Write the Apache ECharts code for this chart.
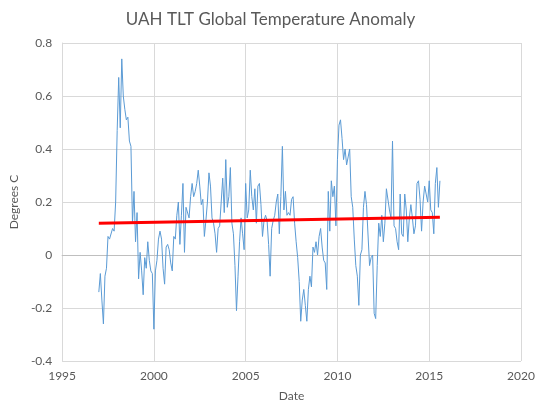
<!DOCTYPE html>
<html>
<head>
<meta charset="utf-8">
<title>UAH TLT Global Temperature Anomaly</title>
<script src="https://cdn.jsdelivr.net/npm/echarts@6/dist/echarts.min.js"></script>
<style>
    html, body { margin: 0; padding: 0; background: #fff; }
    #chart { width: 541px; height: 418px; }
</style>
</head>
<body>
<div id="chart"></div>
<script>
// monthly anomaly, Jan 1997 .. Aug 2015
var startYear = 1997;
var anomaly = [
    -0.14, -0.07, -0.17, -0.26, -0.08, -0.05, 0.07, 0.06, 0.06, 0.10, 0.09, 0.20,   // 1997
    0.47, 0.67, 0.48, 0.74, 0.60, 0.55, 0.51, 0.52, 0.43, 0.41, 0.12, 0.24,         // 1998
    0.05, 0.16, -0.09, 0.01, -0.06, -0.15, -0.01, -0.05, 0.05, -0.02, -0.06, -0.07, // 1999
    -0.28, -0.06, -0.02, 0.06, 0.09, 0.06, -0.05, -0.11, 0.03, 0.04, 0.02, -0.03,   // 2000
    -0.06, 0.07, 0.06, 0.15, 0.20, 0.04, 0.15, 0.27, 0.01, 0.18, 0.18, 0.14,        // 2001
    0.22, 0.27, 0.22, 0.24, 0.27, 0.32, 0.26, 0.19, 0.21, 0.07, 0.13, 0.20,         // 2002
    0.31, 0.26, 0.14, 0.12, 0.08, 0.01, 0.10, 0.11, 0.20, 0.29, 0.16, 0.36,         // 2003
    0.18, 0.22, 0.33, 0.12, 0.08, -0.04, -0.21, -0.08, 0.05, 0.14, 0.08, 0.02,      // 2004
    0.27, 0.14, 0.17, 0.32, 0.22, 0.17, 0.25, 0.12, 0.26, 0.27, 0.19, 0.07,         // 2005
    0.13, 0.15, 0.13, 0.04, -0.08, 0.10, 0.13, 0.15, 0.20, 0.23, 0.08, 0.22,        // 2006
    0.41, 0.17, 0.24, 0.15, 0.16, 0.15, 0.21, 0.22, 0.12, 0.05, -0.01, -0.10,       // 2007
    -0.25, -0.17, -0.13, -0.19, -0.25, -0.13, -0.08, -0.12, 0.03, 0.01, 0.05, 0.00, // 2008
    0.07, 0.10, 0.03, -0.02, -0.03, -0.13, 0.24, 0.09, 0.28, 0.22, 0.26, 0.11,      // 2009
    0.36, 0.49, 0.51, 0.44, 0.36, 0.40, 0.34, 0.37, 0.40, 0.22, 0.18, 0.06,         // 2010
    -0.04, -0.08, -0.19, 0.00, 0.02, 0.18, 0.24, 0.19, 0.19, -0.04, -0.01, 0.00,    // 2011
    -0.22, -0.24, -0.04, 0.12, 0.07, 0.15, 0.05, 0.12, 0.25, 0.25, 0.17, 0.14,      // 2012
    0.43, 0.11, 0.10, 0.05, 0.02, 0.23, 0.08, 0.07, 0.23, 0.17, 0.05, 0.14,         // 2013
    0.19, 0.14, 0.08, 0.11, 0.27, 0.28, 0.21, 0.09, 0.20, 0.26, 0.23, 0.20,         // 2014
    0.28, 0.17, 0.16, 0.08, 0.27, 0.33, 0.18, 0.28                                  // 2015
];
// linear trend line, ends [date, value]
var trendStart = [1997.0, 0.120];
var trendEnd = [2015.58, 0.142];

var xMin = 1995, xMax = 2020, xStep = 5;
var yMin = -0.4, yMax = 0.8, yStep = 0.2;

var series1 = [];
for (var i = 0; i < anomaly.length; i++) {
    series1.push([startYear + i / 12, anomaly[i]]);
}

var chart = echarts.init(document.getElementById('chart'));
var font = 'Lato, "Noto Sans", sans-serif';

var option = {
    backgroundColor: '#ffffff',
    animation: false,
    title: {
        text: 'UAH TLT Global Temperature Anomaly',
        left: 'center',
        top: 6,
        textStyle: {
            color: '#595959',
            fontSize: 17,
            fontWeight: 'normal',
            fontFamily: font
        }
    },
    grid: {
        left: 60,
        right: 20,
        top: 43,
        bottom: 57
    },
    xAxis: {
        type: 'value',
        min: xMin,
        max: xMax,
        interval: xStep,
        name: 'Date',
        nameLocation: 'middle',
        nameGap: 29,
        nameTextStyle: { color: '#595959', fontSize: 12, fontFamily: font },
        axisLine: { show: true, lineStyle: { color: '#bfbfbf' } },
        axisTick: { show: false },
        axisLabel: {
            color: '#595959',
            fontSize: 12,
            fontFamily: font,
            margin: 9,
            formatter: function (v) {
                return String(v);
            }
        },
        splitLine: { show: true, lineStyle: { color: '#d9d9d9' } }
    },
    yAxis: {
        type: 'value',
        min: yMin,
        max: yMax,
        interval: yStep,
        name: 'Degrees C',
        nameLocation: 'middle',
        nameGap: 22,
        nameTextStyle: { color: '#595959', fontSize: 12, fontFamily: font },
        axisLine: { show: true, lineStyle: { color: '#d9d9d9' } },
        axisTick: { show: false },
        axisLabel: {
            color: '#595959',
            fontSize: 12,
            fontFamily: font,
            margin: 10,
            formatter: function (v) {
                return String(Math.round(v * 10) / 10);
            }
        },
        splitLine: { show: true, lineStyle: { color: '#d9d9d9' } }
    },
    series: [{
        name: 'UAH TLT',
        type: 'line',
        data: series1,
        showSymbol: false,
        lineStyle: { color: '#5b9bd5', width: 1 },
        z: 2
    }, {
        name: 'Trend',
        type: 'line',
        data: [trendStart, trendEnd],
        showSymbol: false,
        lineStyle: { color: '#ff0000', width: 3 },
        z: 3
    }]
};

chart.setOption(option);
</script>
</body>
</html>
